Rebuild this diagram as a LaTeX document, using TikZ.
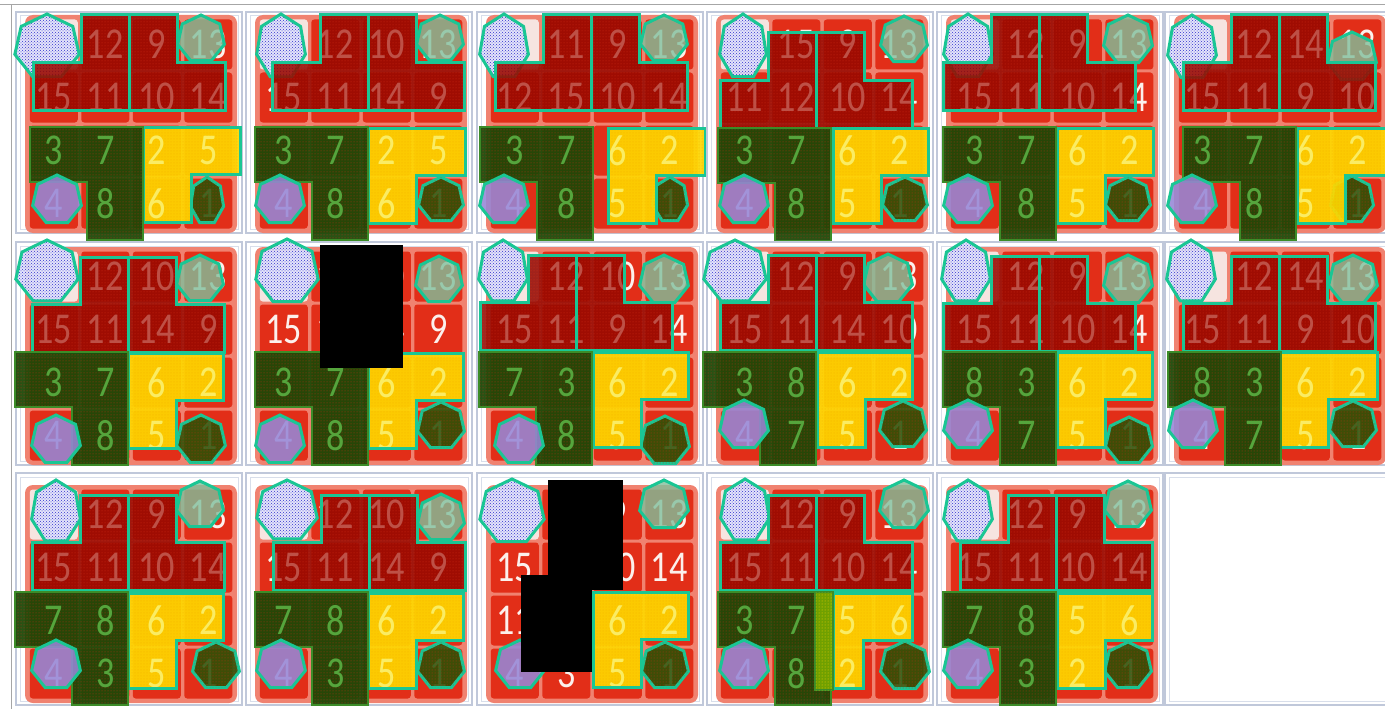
\documentclass[tikz,border=0pt]{standalone}
\usepackage{fontspec}
\newfontfamily\numfont{Carlito}
\usetikzlibrary{patterns}
\definecolor{teal1}{RGB}{26,198,148}
\definecolor{frameA}{RGB}{192,200,218}
\definecolor{frameB}{RGB}{216,222,234}
\definecolor{gapred}{RGB}{240,130,112}
\definecolor{cellred}{RGB}{226,46,24}
\definecolor{blankcell}{RGB}{246,228,224}
\definecolor{numc}{RGB}{252,240,236}
\definecolor{pcred}{RGB}{150,8,0}
\definecolor{pcredtxt}{RGB}{190,80,70}
\definecolor{pcreddot}{RGB}{215,50,25}
\definecolor{pcgreen}{RGB}{28,72,6}
\definecolor{pcgreentxt}{RGB}{85,165,60}
\definecolor{pcgreendot}{RGB}{190,50,20}
\definecolor{pcgreenedge}{RGB}{60,140,40}
\definecolor{pcyellow}{RGB}{255,216,0}
\definecolor{pcyellowtxt}{RGB}{250,236,100}
\definecolor{pcyellowdot}{RGB}{245,175,0}
\definecolor{tlbg}{RGB}{228,228,252}
\definecolor{tldot}{RGB}{50,50,205}
\definecolor{trfill}{RGB}{128,192,156}
\definecolor{blfill}{RGB}{150,135,215}
\definecolor{brfill}{RGB}{40,82,5}
\definecolor{stripc}{RGB}{120,170,0}
\tikzset{
  frameout/.style={draw=frameA, line width=1.5},
  framein/.style={draw=frameB, line width=1},
  num/.style={font=\numfont\fontsize{44}{44}\selectfont, text=numc, xscale=0.82, inner sep=0pt},
  redfill/.style={fill=pcred, fill opacity=0.88, postaction={pattern=dots, pattern color=pcreddot}},
  greenfill/.style={fill=pcgreen, fill opacity=0.94, postaction={pattern=dots, pattern color=pcgreendot}},
  yellowfill/.style={fill=pcyellow, fill opacity=0.92, postaction={pattern=dots, pattern color=pcyellowdot}},
  outl/.style={draw=teal1, line width=3},
  greenoutl/.style={draw=pcgreenedge, line width=1.2},
  hTL/.style={preaction={fill=tlbg, fill opacity=0.95}, pattern=crosshatch dots, pattern color=tldot, draw=teal1, line width=3},
  hTR/.style={fill=trfill, fill opacity=0.8, draw=teal1, line width=3},
  hBL/.style={fill=blfill, fill opacity=0.88, draw=teal1, line width=3},
  hBR/.style={fill=brfill, fill opacity=0.88, draw=teal1, line width=3, postaction={pattern=dots, pattern color=pcgreendot}},
  strip/.style={fill=stripc, fill opacity=0.9, draw=pcgreenedge, line width=1.2, postaction={pattern=dots, pattern color=pcyellow}},
  redact/.style={fill=black}
}
% #1 id, #2 x0, #3 frame top, #4 frame height, #5 grid top, #6 numbers
\newcommand\basegrid[6]{%
  \gdef\curid{#1}\gdef\curx{#2}\gdef\curgy{#5}\gdef\curlist{#6}%
  \draw[frameout] (#2,#3) rectangle ++(226,#4);
  \draw[framein] (#2+4,#3+4) rectangle ++(218,#4-8);
  \fill[gapred, rounded corners=8pt] (#2+9,#5-3) rectangle (#2+221,#5+215);
  \foreach \v [count=\i from 0] in {#6} {%
    \pgfmathsetmacro\cx{#2+12+51.5*mod(\i,4)+25.75}%
    \pgfmathsetmacro\cy{#5+53*int(\i/4)+26.5}%
    \ifnum\v=0
      \fill[blankcell, rounded corners=3pt] (\cx-24,\cy-25) rectangle (\cx+24,\cy+25);
    \else
      \fill[cellred, rounded corners=3pt] (\cx-24,\cy-25) rectangle (\cx+24,\cy+25);
      \node[num] (n#1-\i) at (\cx,\cy) {\v};
    \fi
  }%
}
% redraw the current tile's numbers: #1 name prefix, #2 text colour
\newcommand\renums[2]{%
  \foreach \v [count=\i from 0] in \curlist {%
    \pgfmathsetmacro\cx{\curx+12+51.5*mod(\i,4)+25.75}%
    \pgfmathsetmacro\cy{\curgy+53*int(\i/4)+26.5}%
    \ifnum\v>0
      \node[num, text=#2] (#1\curid-\i) at (\cx,\cy) {\v};
    \fi
  }%
}
% heptagon: style, cx, cy, rx, ry
\newcommand\hept[5]{%
  \filldraw[#1] ({#2},{#3-#5}) \foreach \k in {1,...,6} { -- ({#2+#4*cos(90+\k*360/7)},{#3-#5*sin(90+\k*360/7)}) } -- cycle;
}
\newcommand\redshape[3]{%
  \path[#3] (#1+48,#2) -- (#1+96,#2) -- (#1+96,#2+95) -- (#1,#2+95) -- (#1,#2+47.5) -- (#1+48,#2+47.5) -- cycle
            (#1+96,#2) -- (#1+144,#2) -- (#1+144,#2+47.5) -- (#1+192,#2+47.5) -- (#1+192,#2+95) -- (#1+96,#2+95) -- cycle;
}
\newcommand\greenshape[3]{%
  \path[#3] (#1,#2) -- (#1+113,#2) -- (#1+113,#2+113) -- (#1+57,#2+113) -- (#1+57,#2+55) -- (#1,#2+55) -- cycle;
}
\newcommand\yellowshape[5]{%
  \path[#5] (#1,#2) -- (#1+#3,#2) -- (#1+#3,#2+47) -- (#1+#4,#2+47) -- (#1+#4,#2+95) -- (#1,#2+95) -- cycle;
}
\newcommand\redpcs[2]{%
  \redshape{#1}{#2}{redfill}
  \begin{scope}\redshape{#1}{#2}{clip}\renums{r}{pcredtxt}\end{scope}
  \redshape{#1}{#2}{outl}
}
\newcommand\greenpc[2]{%
  \greenshape{#1}{#2}{greenfill}
  \begin{scope}\greenshape{#1}{#2}{clip}\renums{g}{pcgreentxt}\end{scope}
  \greenshape{#1}{#2}{greenoutl}
}
\newcommand\yellowpc[4]{%
  \yellowshape{#1}{#2}{#3}{#4}{yellowfill}
  \begin{scope}\yellowshape{#1}{#2}{#3}{#4}{clip}\renums{y}{pcyellowtxt}\end{scope}
  \yellowshape{#1}{#2}{#3}{#4}{outl}
}
\begin{document}
\begin{tikzpicture}[x=1pt,y=-1pt]
\useasboundingbox (0,0) rectangle (1385,709);
\clip (0,0) rectangle (1385,709);
\fill[white] (0,0) rectangle (1385,709);
\draw[gray!70, line width=1.2] (0,4.5) -- (1385,4.5);
\draw[gray!70, line width=1.2] (11.5,4.5) -- (11.5,709);

% ---------- Row 1 ----------
% T1
\basegrid{1}{16}{12}{221}{18}{0,12,9,13,15,11,10,14,3,7,2,5,4,8,6,1}
\hept{hTL}{47}{47}{33}{33}\hept{hTR}{201}{39}{24}{24}\hept{hBR}{207}{201}{17}{24}
\redpcs{33}{15}
\yellowpc{143}{127}{97}{48.5}
\greenpc{30}{127}
\hept{hBL}{57}{200}{25}{25}
% T2
\basegrid{2}{246}{12}{221}{18}{0,12,10,13,15,11,14,9,3,7,2,5,4,8,6,1}
\hept{hTL}{281}{47}{25}{33}\hept{hTR}{440}{39}{24}{24}\hept{hBR}{441}{200}{23}{23}
\redpcs{272}{15}
\yellowpc{368}{128}{97}{48.5}
\greenpc{255}{127}
\hept{hBL}{280}{200}{25}{25}
% T3
\basegrid{3}{477}{12}{221}{18}{0,11,9,13,12,15,10,14,3,7,6,2,4,8,5,1}
\hept{hTL}{504}{47}{25}{33}\hept{hTR}{664}{39}{24}{24}\hept{hBR}{670}{200}{18}{23}
\redpcs{495}{15}
\yellowpc{608}{128}{97}{48.5}
\greenpc{480}{127}
\hept{hBL}{504}{200}{25}{25}
% T4
\basegrid{4}{707}{12}{221}{18}{0,15,9,13,11,12,10,14,3,7,6,2,4,8,5,1}
\hept{hTL}{743}{47}{24}{33}\hept{hTR}{904}{40}{24}{24}\hept{hBR}{905}{200}{23}{23}
\redpcs{720}{33}
\yellowpc{833}{128}{95}{48}
\greenpc{718}{128}
\hept{hBL}{744}{200}{25}{25}
% T5
\basegrid{5}{937}{12}{221}{18}{0,12,9,13,15,11,10,14,3,7,6,2,4,8,5,1}
\hept{hTL}{968}{47}{25}{33}\hept{hTR}{1128}{40}{25}{25}\hept{hBR}{1128}{200}{23}{23}
\redpcs{943}{15}
\yellowpc{1057}{128}{96}{48}
\greenpc{943}{127}
\hept{hBL}{968}{200}{25}{25}
% T6
\basegrid{6}{1165}{12}{221}{18}{0,12,14,13,15,11,9,10,3,7,6,2,4,8,5,1}
\hept{hTL}{1192}{48}{25}{33}\hept{hTR}{1352}{57}{25}{25}\hept{hBR}{1352}{200}{22}{24}
\redpcs{1183}{15}
\yellowpc{1297}{128}{97}{48.5}
\greenpc{1183}{127}
\hept{hBL}{1192}{200}{25}{25}

% ---------- Row 2 ----------
% T7
\basegrid{7}{16}{242}{223}{250}{0,12,10,13,15,11,14,9,3,7,6,2,4,8,5,1}
\hept{hTL}{47}{272}{32}{32}\hept{hTR}{200}{279}{24}{24}\hept{hBR}{201}{440}{25}{25}
\redpcs{32}{257}
\yellowpc{128}{353}{95}{48}
\greenpc{15}{352}
\hept{hBL}{56}{440}{25}{25}
% T8
\basegrid{8}{246}{242}{223}{250}{0,12,10,13,15,11,14,9,3,7,6,2,4,8,5,1}
\hept{hTL}{287}{272}{32}{33}\hept{hTR}{439}{280}{24}{24}\hept{hBR}{441}{426}{24}{24}
\yellowpc{368}{353}{95}{48}
\greenpc{255}{352}
\hept{hBL}{280}{440}{25}{25}
% T9
\basegrid{9}{477}{242}{223}{250}{0,12,10,13,15,11,9,14,7,3,6,2,4,8,5,1}
\hept{hTL}{503}{272}{25}{32}\hept{hTR}{664}{280}{25}{25}\hept{hBR}{665}{441}{25}{25}
\redpcs{480}{255}
\yellowpc{593}{352}{95}{48}
\greenpc{479}{352}
\hept{hBL}{519}{440}{25}{25}
% T10
\basegrid{10}{707}{242}{223}{250}{0,12,9,13,15,11,14,10,3,8,6,2,4,7,5,1}
\hept{hTL}{735}{272}{32}{32}\hept{hTR}{888}{279}{25}{25}\hept{hBR}{903}{425}{24}{24}
\redpcs{720}{255}
\yellowpc{817}{352}{95}{48}
\greenpc{703}{352}
\hept{hBL}{744}{425}{25}{25}
% T11
\basegrid{11}{937}{242}{223}{250}{0,12,9,13,15,11,10,14,8,3,6,2,4,7,5,1}
\hept{hTL}{966}{272}{25}{32}\hept{hTR}{1128}{280}{25}{25}\hept{hBR}{1129}{441}{24}{24}
\redpcs{943}{256}
\yellowpc{1057}{352}{95}{48}
\greenpc{943}{352}
\hept{hBL}{968}{425}{25}{25}
% T12
\basegrid{12}{1165}{242}{223}{250}{0,12,14,13,15,11,9,10,8,3,6,2,4,7,5,1}
\hept{hTL}{1191}{272}{25}{32}\hept{hTR}{1353}{280}{25}{25}\hept{hBR}{1353}{425}{24}{24}
\redpcs{1183}{256}
\yellowpc{1280}{352}{97}{48}
\greenpc{1168}{352}
\hept{hBL}{1193}{425}{25}{25}

% ---------- Row 3 ----------
% T13
\basegrid{13}{16}{473}{232}{488}{0,12,9,13,15,11,10,14,7,8,6,2,4,3,5,1}
\hept{hTL}{56}{512}{25}{32}\hept{hTR}{200}{505}{24}{24}\hept{hBR}{216}{666}{24}{24}
\redpcs{32}{495}
\yellowpc{128}{593}{95}{48}
\greenpc{15}{592}
\hept{hBL}{56}{665}{25}{25}
% T14
\basegrid{14}{246}{473}{232}{488}{0,12,10,13,15,11,14,9,7,8,6,2,4,3,5,1}
\hept{hTL}{287}{511}{31}{31}\hept{hTR}{441}{518}{24}{24}\hept{hBR}{441}{666}{24}{24}
\redpcs{273}{495}
\yellowpc{368}{593}{95}{48}
\greenpc{255}{592}
\hept{hBL}{281}{665}{25}{25}
% T15
\basegrid{15}{477}{473}{232}{488}{0,12,9,13,15,7,10,14,11,8,6,2,4,3,5,1}
\hept{hTL}{512}{512}{33}{33}\hept{hTR}{664}{505}{25}{25}\hept{hBR}{665}{666}{24}{24}
\yellowpc{593}{592}{95}{48}
\hept{hBL}{520}{665}{25}{25}
% T16
\basegrid{16}{707}{473}{232}{488}{0,12,9,13,15,11,10,14,3,7,5,6,4,8,2,1}
\hept{hTL}{745}{511}{25}{32}\hept{hTR}{904}{505}{25}{25}\hept{hBR}{905}{666}{25}{25}
\redpcs{720}{495}
\yellowpc{833}{593}{79}{30}
\greenpc{718}{592}
\filldraw[strip] (815,592) rectangle (833,690);
\hept{hBL}{744}{665}{25}{25}
% T17
\basegrid{17}{937}{473}{232}{488}{0,12,9,13,15,11,10,14,7,8,5,6,4,3,2,1}
\hept{hTL}{968}{512}{25}{32}\hept{hTR}{1128}{505}{24}{24}\hept{hBR}{1128}{666}{24}{24}
\redpcs{960}{495}
\yellowpc{1057}{593}{95}{48}
\greenpc{943}{592}
\hept{hBL}{968}{665}{25}{25}
% T18 empty frame
\draw[frameout] (1165,473) rectangle ++(226,232);
\draw[framein] (1169,477) rectangle ++(218,224);

% redaction boxes
\fill[redact] (320,245) rectangle (403,368);
\fill[redact] (548,480) rectangle (623,590);
\fill[redact] (521,575) rectangle (592,672);
\end{tikzpicture}
\end{document}
